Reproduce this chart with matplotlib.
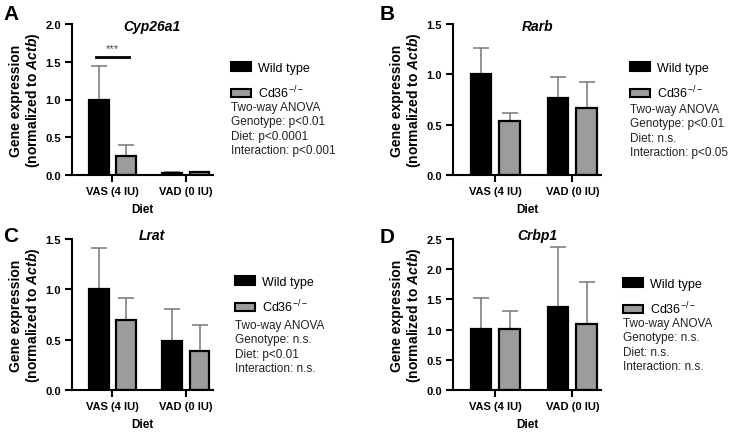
import numpy as np
import matplotlib
matplotlib.use('Agg')
import matplotlib.pyplot as plt
from matplotlib.patches import Patch

plt.rcParams['font.family'] = 'Liberation Sans'
plt.rcParams['mathtext.fontset'] = 'custom'
plt.rcParams['mathtext.rm'] = 'Liberation Sans'
plt.rcParams['mathtext.it'] = 'Liberation Sans:italic'
plt.rcParams['mathtext.bf'] = 'Liberation Sans:bold'
plt.rcParams['mathtext.bfit'] = 'Liberation Sans:italic:bold'

# data (mean and upper SD), order: VAS, VAD
diets = ['VAS (4 IU)', 'VAD (0 IU)']
genes = ['Cyp26a1', 'Rarb', 'Lrat', 'Crbp1']
letters = ['A', 'B', 'C', 'D']
wt_mean = [[1.00, 0.03], [1.00, 0.765], [1.00, 0.49], [1.01, 1.38]]
wt_sd = [[0.44, 0.005], [0.26, 0.21], [0.41, 0.31], [0.51, 0.98]]
ko_mean = [[0.25, 0.035], [0.535, 0.665], [0.70, 0.39], [1.01, 1.09]]
ko_sd = [[0.15, 0.005], [0.08, 0.255], [0.21, 0.255], [0.29, 0.69]]
y_max = [2.0, 1.5, 1.5, 2.5]
anova = [
    ['Two-way ANOVA', 'Genotype: p<0.01', 'Diet: p<0.0001', 'Interaction: p<0.001'],
    ['Two-way ANOVA', 'Genotype: p<0.01', 'Diet: n.s.', 'Interaction: p<0.05'],
    ['Two-way ANOVA', 'Genotype: n.s.', 'Diet: p<0.01', 'Interaction: n.s.'],
    ['Two-way ANOVA', 'Genotype: n.s.', 'Diet: n.s.', 'Interaction: n.s.'],
]
sig_y = 1.56  # *** bracket in panel A
sig_label = '***'

W, H = 736, 435
fig = plt.figure(figsize=(W / 100, H / 100), dpi=100)

def px_rect(l, r, t, b):
    return [l / W, 1 - b / H, (r - l) / W, (b - t) / H]

# pixel layout of each panel: axes box, legend/text left x, first row y
axes_px = [(72, 213, 25, 176), (453, 601, 25, 176), (72, 213, 240, 391), (453, 601, 240, 391)]
legend_px = [(231, 63), (630, 63), (235, 277), (623, 279)]
text_px = [(231, 108), (630, 110), (235, 326), (623, 324)]
letter_px = [(3, 14), (380, 14), (3, 236), (380, 238)]
title_y = [0.99, 0.99, 1.025, 1.025]

wt_color = 'black'
ko_color = '#9c9c9c'
err_color = '#777777'
bw = 0.27
off = 0.187
x = np.arange(len(diets))

for i in range(4):
    ax = fig.add_axes(px_rect(*axes_px[i]))
    ax.bar(x - off, wt_mean[i], bw, color=wt_color, edgecolor='black', linewidth=1.6, zorder=2)
    ax.bar(x + off, ko_mean[i], bw, color=ko_color, edgecolor='black', linewidth=1.6, zorder=2)
    ax.errorbar(x - off, wt_mean[i], yerr=[np.zeros(2), wt_sd[i]], fmt='none',
                ecolor=err_color, elinewidth=1.1, capsize=6, capthick=1.1, zorder=1)
    ax.errorbar(x + off, ko_mean[i], yerr=[np.zeros(2), ko_sd[i]], fmt='none',
                ecolor=err_color, elinewidth=1.1, capsize=6, capthick=1.1, zorder=1)

    ax.set_xlim(-0.55, 1.37)
    ax.set_ylim(0, y_max[i])
    ax.set_yticks(np.arange(0, y_max[i] + 0.01, 0.5))
    ax.yaxis.set_major_formatter(matplotlib.ticker.FormatStrFormatter('%.1f'))
    ax.set_xticks(x)
    ax.set_xticklabels(diets)
    for lab in ax.get_xticklabels() + ax.get_yticklabels():
        lab.set_fontweight('bold')
        lab.set_fontsize(8)
    ax.tick_params(direction='out', length=5, width=1.5, pad=3)
    for s in ['top', 'right']:
        ax.spines[s].set_visible(False)
    for s in ['left', 'bottom']:
        ax.spines[s].set_linewidth(1.5)

    ax.set_xlabel('Diet', fontsize=8.5, fontweight='bold', labelpad=5)
    ax.set_ylabel('Gene expression\n(normalized to $\\mathbfit{Actb}$)',
                  fontsize=10, fontweight='bold', labelpad=2, linespacing=1.1)
    ax.text(0.57, title_y[i], genes[i], transform=ax.transAxes, ha='center', va='center',
            fontsize=10, fontweight='bold', fontstyle='italic')

    if i == 0:
        ax.plot([x[0] - off - 0.04, x[0] + off + 0.04], [sig_y, sig_y], color='black', lw=2)
        ax.text(x[0], sig_y + 0.05, sig_label, ha='center', va='bottom', fontsize=8, color='#444')

    handles = [Patch(facecolor=wt_color, edgecolor='black', linewidth=1.5),
               Patch(facecolor=ko_color, edgecolor='black', linewidth=1.5)]
    lx, ly = legend_px[i]
    ax.legend(handles, ['Wild type', 'Cd36$^{-/-}$'], loc='upper left',
              bbox_to_anchor=(lx / W, 1 - ly / H), bbox_transform=fig.transFigure,
              frameon=False, borderpad=0, borderaxespad=0, fontsize=9,
              handlelength=1.6, handleheight=0.65, handletextpad=0.55, labelspacing=0.8)

    tx, ty = text_px[i]
    for j, line in enumerate(anova[i]):
        fig.text(tx / W, 1 - (ty + j * 14.4) / H, line, ha='left', va='center',
                 fontsize=8.5, color='#222222')

    lx, ly = letter_px[i]
    fig.text(lx / W, 1 - ly / H, letters[i], ha='left', va='center', fontsize=15, fontweight='bold')

fig.savefig('out.png', dpi=100)
